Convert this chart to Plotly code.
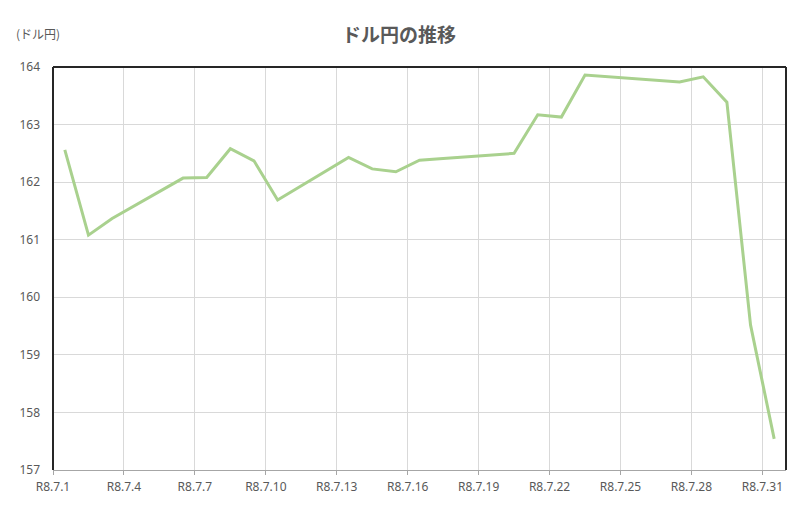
import plotly.graph_objects as go

# 営業日（7月の日付）とドル円の終値
days = [1, 2, 3, 6, 7, 8, 9, 10, 13, 14, 15, 16, 17, 20, 21, 22, 23, 24, 27, 28, 29, 30, 31]
rates = [162.56, 161.08, 161.37, 162.07, 162.08, 162.58, 162.37, 161.69,
         162.43, 162.23, 162.18, 162.38, 162.41, 162.50, 163.17, 163.13,
         163.86, 163.83, 163.74, 163.83, 163.39, 159.52, 157.54]

tick_days = [1, 4, 7, 10, 13, 16, 19, 22, 25, 28, 31]
tick_labels = [f"R8.7.{d}" for d in tick_days]

x = [f"2026-07-{d:02d} 12:00" for d in days]
tickvals = [f"2026-07-{d:02d}" for d in tick_days]

GRAY = "#595959"
FONT = "Noto Sans CJK JP"
TICK_FONT = dict(size=12, color=GRAY, family="Noto Sans")

fig = go.Figure()
fig.add_trace(go.Scatter(
    x=x, y=rates, mode="lines",
    line=dict(color="#a9d18e", width=3),
    hoverinfo="x+y",
))

# ページ本体の余白(8px)を見込んでサイズを調整
fig.update_layout(
    width=792, height=503,
    margin=dict(l=45, r=14, t=59, b=41),
    paper_bgcolor="white", plot_bgcolor="white",
    showlegend=False,
    font=dict(family=FONT, color=GRAY, size=11),
    title=dict(text="<b>ドル円の推移</b>", x=0.4937, xanchor="center",
               y=0.946, yanchor="middle",
               font=dict(size=19, color=GRAY, family=FONT)),
    xaxis=dict(
        type="date", range=["2026-07-01", "2026-08-01"],
        tickvals=tickvals, ticktext=tick_labels,
        showgrid=True, gridcolor="#d9d9d9", gridwidth=1,
        showline=True, linecolor="#a6a6a6", linewidth=1,
        ticks="outside", ticklen=4, tickcolor="#a6a6a6",
        ticklabelstandoff=2,
        tickfont=TICK_FONT,
        zeroline=False,
    ),
    yaxis=dict(
        range=[157, 164], dtick=1,
        showgrid=True, gridcolor="#d9d9d9", gridwidth=1,
        showline=False, zeroline=False,
        ticks="", ticklabelstandoff=12,
        tickfont=TICK_FONT,
    ),
    annotations=[dict(
        text="(ドル円)", xref="paper", yref="paper",
        x=-0.053, y=1.084, xanchor="left", yanchor="middle",
        showarrow=False, font=dict(size=12, color=GRAY, family=FONT),
    )],
    shapes=[
        dict(type="line", xref="paper", yref="paper", x0=0, x1=1, y0=1, y1=1,
             line=dict(color="#262626", width=2)),
        dict(type="line", xref="paper", yref="paper", x0=0, x1=0, y0=0, y1=1,
             line=dict(color="#262626", width=2)),
        dict(type="line", xref="paper", yref="paper", x0=1, x1=1, y0=0, y1=1,
             line=dict(color="#262626", width=2)),
    ],
)

fig.write_html("out.html")
